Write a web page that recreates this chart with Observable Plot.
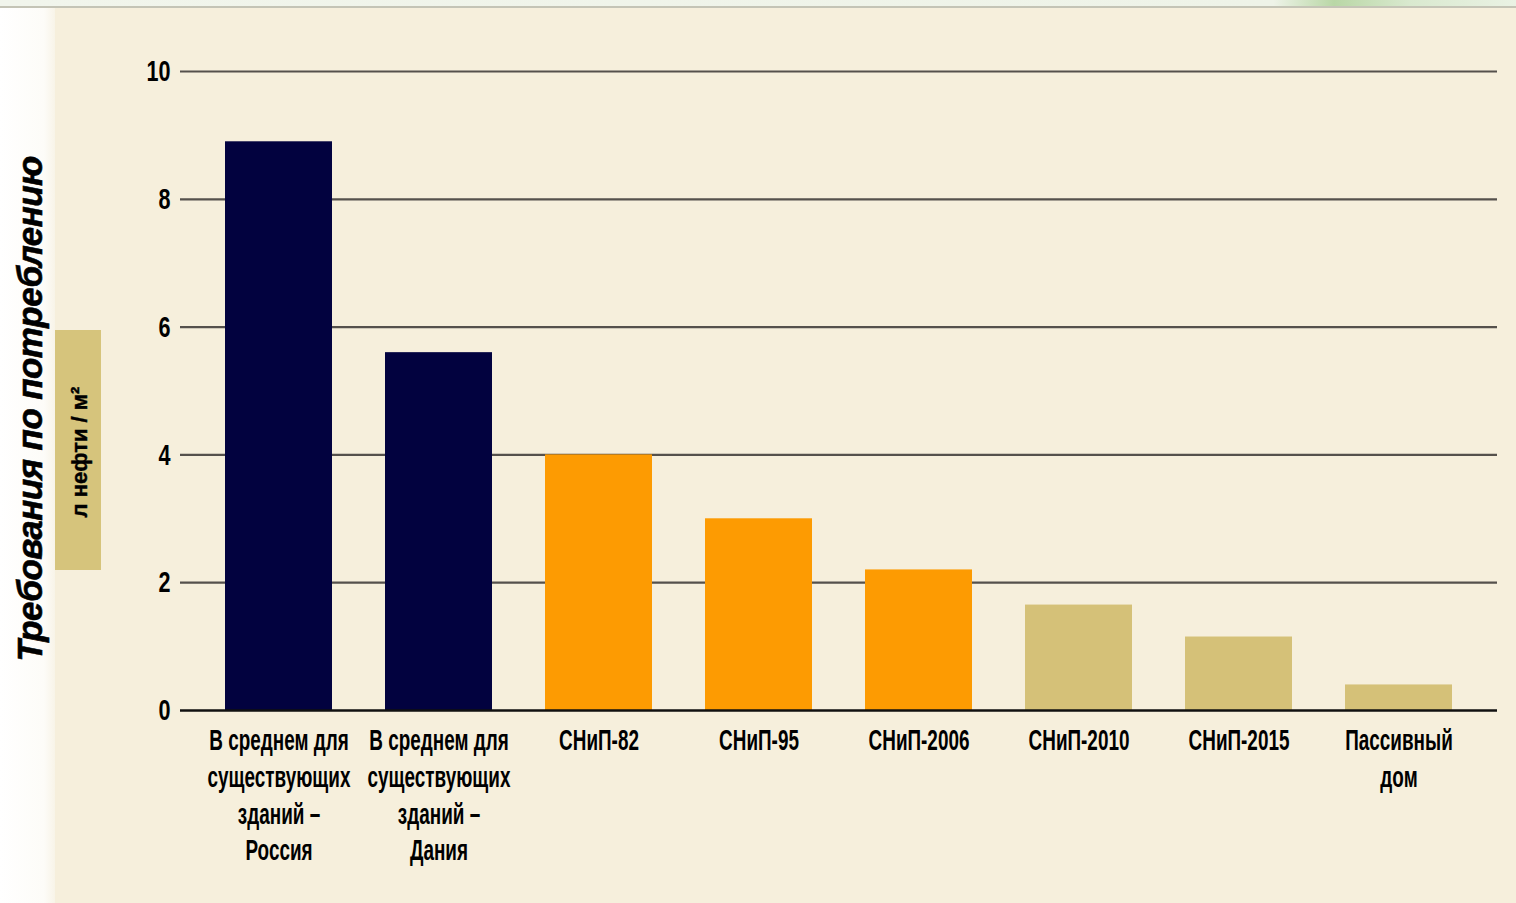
<!DOCTYPE html>
<html>
<head>
<meta charset="utf-8">
<script src="https://cdn.jsdelivr.net/npm/d3@7"></script>
<script src="https://cdn.jsdelivr.net/npm/@observablehq/plot@0.6"></script>
<style>
  html, body { margin: 0; padding: 0; }
  body { width: 1516px; height: 903px; position: relative; overflow: hidden; background: #f6efdc; }
  #topstrip { position: absolute; left: 0; top: 0; width: 1516px; height: 6px;
    background: linear-gradient(to right, #f1f5ec 0%, #eef3e8 84%, #b9d7a6 88%, #d9e9cf 93%, #eaf2e4 100%);
    border-bottom: 2px solid #c4c4b6; }
  #leftstrip { position: absolute; left: 0; top: 8px; width: 55px; height: 895px;
    background: linear-gradient(to right, #ffffff 0%, #fdfcf8 80%, #f8f4e8 100%); }
  #unitbox { position: absolute; left: 55px; top: 330px; width: 46px; height: 240px; background: #d6c47c; }
  .rot { position: absolute; transform: translate(-50%, -50%) rotate(-90deg); white-space: nowrap; color: #000; }
  #ytitle { left: 30px; top: 409px; font: italic bold 35px "Liberation Sans", Arial, sans-serif; letter-spacing: -0.6px; -webkit-text-stroke: 0.6px #000; }
  #unit { left: 80px; top: 452px; font: bold 22px "Liberation Sans", Arial, sans-serif; -webkit-text-stroke: 0.4px #000; }
  #chart { position: absolute; left: 0; top: 0; }
</style>
</head>
<body>
<div id="topstrip"></div>
<div id="leftstrip"></div>
<div id="unitbox"></div>
<div id="ytitle" class="rot">Требования по потреблению</div>
<div id="unit" class="rot">л нефти / м²</div>
<div id="chart"></div>
<script>
const categories = ["ru", "dk", "snip82", "snip95", "snip2006", "snip2010", "snip2015", "passive"];
const categoryLabels = [
  "В среднем для\nсуществующих\nзданий –\nРоссия",
  "В среднем для\nсуществующих\nзданий –\nДания",
  "СНиП-82",
  "СНиП-95",
  "СНиП-2006",
  "СНиП-2010",
  "СНиП-2015",
  "Пассивный\nдом"
];
const values = [8.9, 5.6, 4.0, 3.0, 2.2, 1.65, 1.15, 0.4];
const groups = ["existing", "existing", "snip", "snip", "snip", "future", "future", "future"];
const groupDomain = ["existing", "snip", "future"];
const groupColors = ["#02023f", "#fd9b02", "#d5c178"];
const yTicks = [0, 2, 4, 6, 8, 10];

const data = categories.map((c, i) => ({cat: c, value: values[i], group: groups[i]}));
const labelOf = new Map(categories.map((c, i) => [c, categoryLabels[i]]));

const FONT = '"Liberation Sans", Arial, sans-serif';

const chart = Plot.plot({
  width: 1516,
  height: 903,
  marginLeft: 180,
  marginRight: 19,
  marginTop: 71,
  marginBottom: 193,
  style: {background: "transparent", fontFamily: FONT, color: "#000", overflow: "visible"},
  x: {domain: categories, paddingInner: 0.334, paddingOuter: 0.27, label: null},
  y: {domain: [0, 10], label: null},
  color: {domain: groupDomain, range: groupColors},
  marks: [
    Plot.ruleY(yTicks.filter(d => d > 0), {stroke: "#55514c", strokeWidth: 2.2}),
    Plot.barY(data, {x: "cat", y: "value", fill: "group"}),
    Plot.ruleY([0], {stroke: "#111", strokeWidth: 2.4}),
    Plot.axisY({ticks: yTicks, tickSize: 0, tickPadding: 10, fontSize: 30, fontWeight: "bold", label: null,
      stroke: "#000", strokeWidth: 1.1}),
    Plot.axisX({tickSize: 0, tickPadding: 14, fontSize: 30, fontWeight: "bold", lineHeight: 1.22,
      tickFormat: d => labelOf.get(d), label: null, stroke: "#000", strokeWidth: 1.1})
  ]
});

// condense tick labels horizontally (the original uses a condensed typeface)
function condense(selector, sx) {
  chart.querySelectorAll(selector).forEach(t => {
    const tr = t.getAttribute("transform");
    if (tr) {
      t.setAttribute("transform", tr + ` scale(${sx},1)`);
    } else {
      const x = +t.getAttribute("x") || 0, y = +t.getAttribute("y") || 0;
      t.setAttribute("transform", `translate(${x},${y}) scale(${sx},1) translate(${-x},${-y})`);
    }
  });
}
condense('g[aria-label="x-axis tick label"] text', 0.63);
condense('g[aria-label="y-axis tick label"] text', 0.72);

document.getElementById("chart").appendChild(chart);
</script>
</body>
</html>
